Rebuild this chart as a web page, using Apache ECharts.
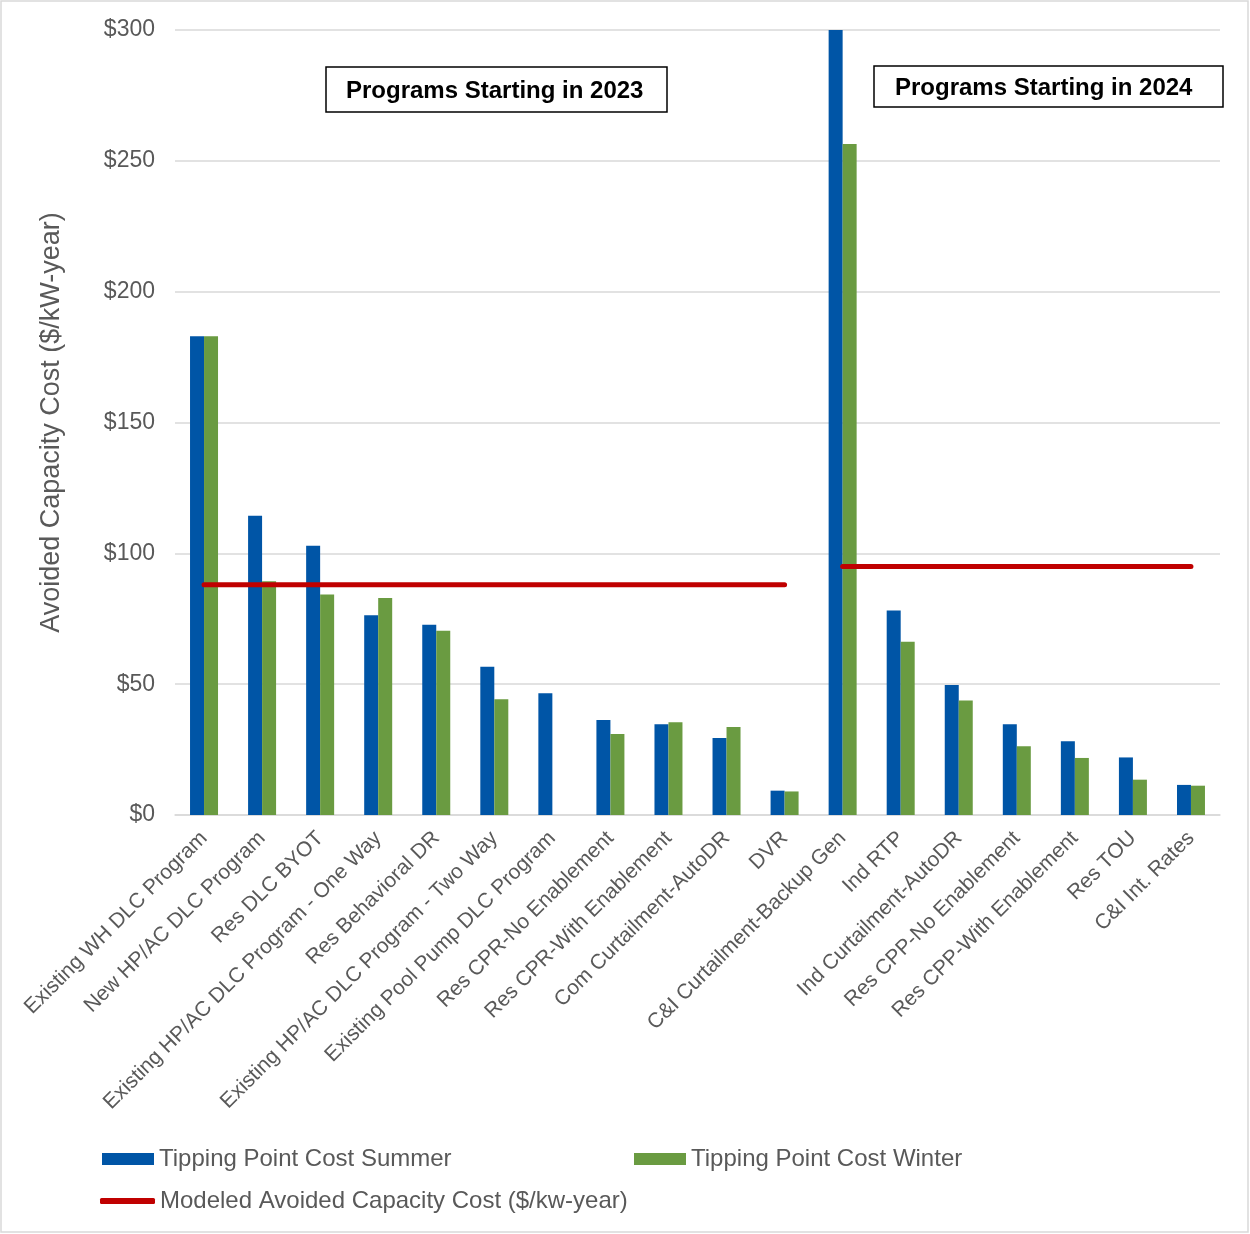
<!DOCTYPE html>
<html>
<head>
<meta charset="utf-8">
<script src="https://cdn.jsdelivr.net/npm/echarts@6/dist/echarts.min.js"></script>
<style>
  html, body { margin: 0; padding: 0; background: #fff; }
  #chart-container { width: 1250px; height: 1234px; }
</style>
</head>
<body>
<div id="chart-container"></div>
<script>
// categories along the x axis
const programs = [
  'Existing WH DLC Program', 'New HP/AC DLC Program', 'Res DLC BYOT',
  'Existing HP/AC DLC Program - One Way', 'Res Behavioral DR',
  'Existing HP/AC DLC Program - Two Way', 'Existing Pool Pump DLC Program',
  'Res CPR-No Enablement', 'Res CPR-With Enablement', 'Com Curtailment-AutoDR', 'DVR',
  'C&I Curtailment-Backup Gen', 'Ind RTP', 'Ind Curtailment-AutoDR',
  'Res CPP-No Enablement', 'Res CPP-With Enablement', 'Res TOU', 'C&I Int. Rates'
];

// tipping point costs ($/kW-year)
const summerCost = [183, 114.4, 102.9, 76.3, 72.7, 56.7, 46.5, 36.3, 34.7, 29.4, 9.3,
                    300, 78.2, 49.7, 34.7, 28.2, 22.0, 11.5];
const winterCost = [183, 89.3, 84.3, 82.9, 70.4, 44.2, null, 31.0, 35.4, 33.6, 9.0,
                    256.4, 66.2, 43.8, 26.3, 21.8, 13.5, 11.2];

// modeled avoided capacity cost, one level per program start year
const avoided2023 = [88, 88, 88, 88, 88, 88, 88, 88, 88, 88, 88,
                     null, null, null, null, null, null, null];
const avoided2024 = [null, null, null, null, null, null, null, null, null, null, null,
                     95, 95, 95, 95, 95, 95, 95];

const yTicks = [0, 50, 100, 150, 200, 250, 300];

const chartContainer = document.getElementById('chart-container');
const myChart = echarts.init(chartContainer, null, { renderer: 'canvas' });

const gray = '#595959';
const font = 'Liberation Sans, Arial, sans-serif';
const lineName = 'Modeled Avoided Capacity Cost ($/kw-year)';

let option = {
  animation: false,
  backgroundColor: '#fff',
  textStyle: { fontFamily: font },
  grid: { left: 175, right: 30, top: 30, bottom: 419, containLabel: false },
  legend: [
    {
      left: 102, top: 1147, padding: 0, itemWidth: 52, itemHeight: 12, itemGap: 0,
      icon: 'rect', data: ['Tipping Point Cost Summer'],
      textStyle: { fontSize: 24, color: gray, fontFamily: font }
    },
    {
      left: 634, top: 1147, padding: 0, itemWidth: 52, itemHeight: 12, itemGap: 0,
      icon: 'rect', data: ['Tipping Point Cost Winter'],
      textStyle: { fontSize: 24, color: gray, fontFamily: font }
    },
    {
      left: 100, top: 1189, padding: 0, itemWidth: 55, itemHeight: 6, itemGap: 0,
      icon: 'roundRect', data: [lineName],
      textStyle: { fontSize: 24, color: gray, fontFamily: font }
    }
  ],
  xAxis: {
    type: 'category',
    data: programs,
    axisLine: { lineStyle: { color: '#d9d9d9', width: 1.5 } },
    axisTick: { show: false },
    axisLabel: {
      interval: 0, rotate: 45, margin: 20,
      fontSize: 21, color: gray, fontFamily: font
    }
  },
  yAxis: {
    type: 'value',
    min: yTicks[0],
    max: yTicks[yTicks.length - 1],
    interval: 50,
    name: 'Avoided Capacity Cost ($/kW-year)',
    nameLocation: 'middle',
    nameGap: 110,
    nameTextStyle: { fontSize: 27, color: gray, fontFamily: font },
    axisLine: { show: false },
    axisTick: { show: false },
    axisLabel: {
      margin: 20, fontSize: 23, color: gray, fontFamily: font,
      formatter: v => '$' + v
    },
    splitLine: { lineStyle: { color: '#d9d9d9', width: 1.5 } }
  },
  series: [
    {
      name: 'Tipping Point Cost Summer',
      type: 'bar',
      data: summerCost,
      barWidth: 14,
      barGap: '0%',
      itemStyle: { color: '#0055A6' }
    },
    {
      name: 'Tipping Point Cost Winter',
      type: 'bar',
      data: winterCost,
      barWidth: 14,
      itemStyle: { color: '#6A9B41' }
    },
    {
      name: lineName,
      type: 'line',
      data: avoided2023,
      symbol: 'none',
      itemStyle: { color: '#C00000' },
      lineStyle: { color: '#C00000', width: 5, cap: 'round' },
      z: 5
    },
    {
      name: lineName,
      type: 'line',
      data: avoided2024,
      symbol: 'none',
      itemStyle: { color: '#C00000' },
      lineStyle: { color: '#C00000', width: 5, cap: 'round' },
      z: 5
    }
  ],
  graphic: [
    {
      type: 'rect',
      shape: { x: 1, y: 1, width: 1247, height: 1231 },
      style: { fill: 'none', stroke: '#d9d9d9', lineWidth: 1.5 },
      silent: true
    },
    {
      type: 'rect',
      shape: { x: 326, y: 67, width: 341, height: 45 },
      style: { fill: '#fff', stroke: '#000', lineWidth: 1.5 },
      z: 10
    },
    {
      type: 'text',
      x: 346, y: 91,
      style: {
        text: 'Programs Starting in 2023',
        font: 'bold 24px ' + font, fill: '#000', verticalAlign: 'middle'
      },
      z: 11
    },
    {
      type: 'rect',
      shape: { x: 874, y: 66, width: 349, height: 41 },
      style: { fill: '#fff', stroke: '#000', lineWidth: 1.5 },
      z: 10
    },
    {
      type: 'text',
      x: 895, y: 88,
      style: {
        text: 'Programs Starting in 2024',
        font: 'bold 24px ' + font, fill: '#000', verticalAlign: 'middle'
      },
      z: 11
    }
  ]
};

myChart.setOption(option);
window.addEventListener('resize', myChart.resize);
</script>
</body>
</html>
